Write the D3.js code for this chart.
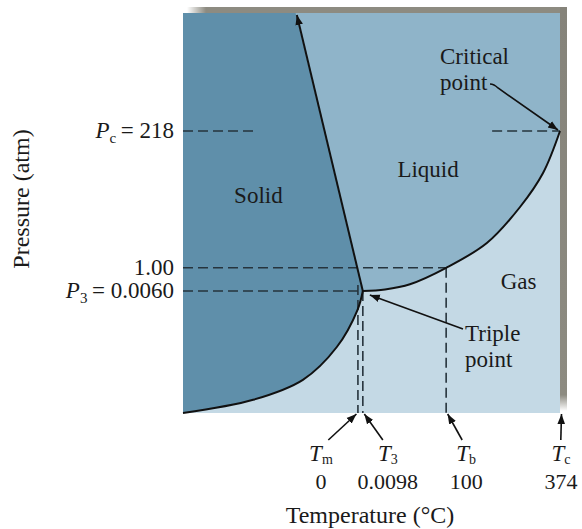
<!DOCTYPE html>
<html lang="en">
  <head>
    <meta charset="UTF-8" />
    <title>Phase diagram of water</title>
    <style>
      body { margin: 0; background: #fff; }
      text { font-family: "Liberation Serif", "Times New Roman", serif; fill: #1a1a1a; }
    </style>
  </head>
  <body>
    <div id="chart"></div>
    <script src="https://cdn.jsdelivr.net/npm/d3@7"></script>
    <script>
      // schematic units: 0..100 on both axes (diagram is not to scale)
      const solidGasCurve = [[0, 0], [18.6, 3.3], [31.8, 8.3], [40.8, 16.5], [46.3, 25.8], [47.7, 30.5]];
      const liquidGasCurve = [[47.7, 30.5], [53.6, 30.9], [60.2, 32.2], [69.8, 36.3], [80.6, 42.5], [89.4, 51.5], [95.5, 60], [100, 70.5]];
      const solidLiquidLine = [[47.7, 30.5], [29.9, 100]];

      const phaseNames = ["Solid", "Liquid", "Gas"];
      const phaseAt = [[20, 52.5], [65, 59], [89, 31]];

      // pressure marks: Pc, 1 atm, P3
      const pressureAt = [70.5, 36.3, 30.5];
      const pressureSym = ["c", "", "3"];
      const pressureLabels = ["218", "1.00", "0.0060"];

      // temperature marks: Tm, T3, Tb, Tc
      const tempAt = [46.4, 47.7, 69.8, 100];
      const tempSym = ["m", "3", "b", "c"];
      const tempLabels = ["0", "0.0098", "100", "374"];

      const W = 582, H = 529;
      const x = d3.scaleLinear().domain([0, 100]).range([183, 560]);
      const y = d3.scaleLinear().domain([0, 100]).range([413, 13]);

      const svg = d3.select("#chart").append("svg")
        .attr("width", W).attr("height", H);

      const defs = svg.append("defs");
      defs.append("marker").attr("id", "arr")
        .attr("viewBox", "0 0 10 10").attr("refX", 10).attr("refY", 5)
        .attr("markerWidth", 10).attr("markerHeight", 10)
        .attr("markerUnits", "userSpaceOnUse").attr("orient", "auto")
        .append("path").attr("d", "M0,1.2 L10,5 L0,8.8 Z").attr("fill", "#111");

      var gTop = defs.append("linearGradient").attr("id", "shTop")
        .attr("x1", 0).attr("x2", 1).attr("y1", 0).attr("y2", 0);
      gTop.append("stop").attr("offset", 0).attr("stop-color", "#8d8b81").attr("stop-opacity", 0);
      gTop.append("stop").attr("offset", 0.05).attr("stop-color", "#8d8b81").attr("stop-opacity", 1);
      gTop.append("stop").attr("offset", 1).attr("stop-color", "#8d8b81").attr("stop-opacity", 1);
      var gRight = defs.append("linearGradient").attr("id", "shRight")
        .attr("x1", 0).attr("x2", 0).attr("y1", 0).attr("y2", 1);
      gRight.append("stop").attr("offset", 0).attr("stop-color", "#85837a").attr("stop-opacity", 1);
      gRight.append("stop").attr("offset", 0.96).attr("stop-color", "#8d8b81").attr("stop-opacity", 1);
      gRight.append("stop").attr("offset", 1).attr("stop-color", "#8d8b81").attr("stop-opacity", 0);

      // drop shadow behind the plot
      svg.append("rect").attr("x", x(0) + 4).attr("y", y(100) - 6)
        .attr("width", x(100) - x(0) + 3).attr("height", 6).attr("fill", "url(#shTop)");
      svg.append("rect").attr("x", x(100)).attr("y", y(100) - 6)
        .attr("width", 7).attr("height", y(0) - y(100) + 4).attr("fill", "url(#shRight)");

      // gas = whole plot background
      svg.append("rect").attr("x", x(0)).attr("y", y(100))
        .attr("width", x(100) - x(0)).attr("height", y(0) - y(100))
        .attr("fill", "#c4d9e5");

      const curve = d3.line().x(d => x(d[0])).y(d => y(d[1])).curve(d3.curveCatmullRom.alpha(0.5));
      const straight = d3.line().x(d => x(d[0])).y(d => y(d[1]));

      // liquid region: liquid-gas curve, up the right edge, back along the fusion line
      var liqPath = curve(liquidGasCurve) +
        "L" + x(100) + "," + y(100) +
        "L" + x(solidLiquidLine[1][0]) + "," + y(100) + "Z";
      svg.append("path").attr("d", liqPath).attr("fill", "#8fb4c9");

      // solid region
      var solPath = curve(solidGasCurve) +
        "L" + x(solidLiquidLine[1][0]) + "," + y(100) +
        "L" + x(0) + "," + y(100) + "Z";
      svg.append("path").attr("d", solPath).attr("fill", "#5f8faa");

      // dashed guide lines
      const dash = svg.append("g").attr("stroke", "#26343d").attr("stroke-width", 1.6)
        .attr("stroke-dasharray", "10,5").attr("fill", "none");
      // Pc: two short pieces
      dash.append("line").attr("x1", x(0)).attr("x2", x(19.5))
        .attr("y1", y(pressureAt[0])).attr("y2", y(pressureAt[0]));
      dash.append("line").attr("x1", x(82)).attr("x2", x(100))
        .attr("y1", y(pressureAt[0])).attr("y2", y(pressureAt[0]));
      // 1 atm to Tb, P3 to triple point
      dash.append("line").attr("x1", x(0)).attr("x2", x(tempAt[2]))
        .attr("y1", y(pressureAt[1])).attr("y2", y(pressureAt[1]));
      dash.append("line").attr("x1", x(0)).attr("x2", x(tempAt[1]))
        .attr("y1", y(pressureAt[2])).attr("y2", y(pressureAt[2]));
      // verticals down to the temperature axis
      dash.append("line").attr("x1", x(tempAt[0])).attr("x2", x(tempAt[0]))
        .attr("y1", y(pressureAt[2]) - 6).attr("y2", y(0));
      dash.append("line").attr("x1", x(tempAt[1])).attr("x2", x(tempAt[1]))
        .attr("y1", y(pressureAt[2])).attr("y2", y(0));
      dash.append("line").attr("x1", x(tempAt[2])).attr("x2", x(tempAt[2]))
        .attr("y1", y(pressureAt[1])).attr("y2", y(0));

      // phase boundaries
      svg.append("path").attr("d", curve(solidGasCurve))
        .attr("fill", "none").attr("stroke", "#111").attr("stroke-width", 2);
      svg.append("path").attr("d", curve(liquidGasCurve))
        .attr("fill", "none").attr("stroke", "#111").attr("stroke-width", 2);
      svg.append("path")
        .attr("d", straight([solidLiquidLine[0], [solidLiquidLine[1][0] + 0.3, 99.5]]))
        .attr("fill", "none").attr("stroke", "#111").attr("stroke-width", 2)
        .attr("marker-end", "url(#arr)");

      // phase names
      svg.selectAll(".phase").data(phaseNames).enter().append("text")
        .attr("class", "phase")
        .attr("x", (d, i) => x(phaseAt[i][0]))
        .attr("y", (d, i) => y(phaseAt[i][1]))
        .attr("text-anchor", "middle").attr("font-size", 23)
        .text(d => d);

      // critical point and triple point callouts
      const cp = liquidGasCurve[liquidGasCurve.length - 1];
      const tp = liquidGasCurve[0];
      var crit = svg.append("text").attr("font-size", 23);
      crit.append("tspan").attr("x", 440).attr("y", 64).text("Critical");
      crit.append("tspan").attr("x", 440).attr("y", 90).text("point");
      svg.append("path").attr("d", "M490,84 Q494,84 498,88 L" + (x(cp[0]) - 2) + "," + (y(cp[1]) - 1))
        .attr("fill", "none").attr("stroke", "#111").attr("stroke-width", 1.6)
        .attr("marker-end", "url(#arr)");

      var trip = svg.append("text").attr("font-size", 23);
      trip.append("tspan").attr("x", 465).attr("y", 341).text("Triple");
      trip.append("tspan").attr("x", 465).attr("y", 367).text("point");
      svg.append("line").attr("x1", 463).attr("y1", 329)
        .attr("x2", x(tp[0]) + 7).attr("y2", y(tp[1]) + 4)
        .attr("stroke", "#111").attr("stroke-width", 1.6)
        .attr("marker-end", "url(#arr)");

      // pressure labels on the left
      svg.selectAll(".plab").data(pressureLabels).enter().append("text")
        .attr("class", "plab")
        .attr("x", 174)
        .attr("y", (d, i) => y(pressureAt[i]) + 7)
        .attr("text-anchor", "end").attr("font-size", 23)
        .each(function (d, i) {
          var t = d3.select(this);
          if (pressureSym[i]) {
            t.append("tspan").attr("font-style", "italic").text("P");
            t.append("tspan").attr("font-size", 15).attr("dy", 5).text(pressureSym[i]);
            t.append("tspan").attr("dy", -5).text("\u2009= " + d);
          } else {
            t.text(d);
          }
        });

      // temperature marks under the plot
      const labelDx = [-37, 25, 20, 1];
      tempAt.forEach(function (v, i) {
        var lx = x(v), cx = lx + labelDx[i];
        svg.append("line")
          .attr("x1", lx + labelDx[i] * 0.8).attr("y1", 440)
          .attr("x2", lx + Math.sign(labelDx[i]) * 1.5).attr("y2", y(0) + 1)
          .attr("stroke", "#111").attr("stroke-width", 1.6)
          .attr("marker-end", "url(#arr)");
        // symbol and subscript, kept on one baseline block
        var t = svg.append("text").attr("x", cx).attr("y", 461)
          .attr("text-anchor", "middle").attr("font-size", 23);
        t.append("tspan").attr("font-style", "italic").text("T");
        t.append("tspan").attr("font-size", 14).attr("dy", 3).text(tempSym[i]);
        svg.append("text").attr("x", cx).attr("y", 489)
          .attr("text-anchor", "middle").attr("font-size", 22)
          .text(tempLabels[i]);
      });

      // axis titles
      svg.append("text").attr("x", 370).attr("y", 523)
        .attr("text-anchor", "middle").attr("font-size", 24)
        .text("Temperature (°C)");
      svg.append("text")
        .attr("transform", "translate(29,199) rotate(-90)")
        .attr("text-anchor", "middle").attr("font-size", 24)
        .text("Pressure (atm)");
    </script>
  </body>
</html>
